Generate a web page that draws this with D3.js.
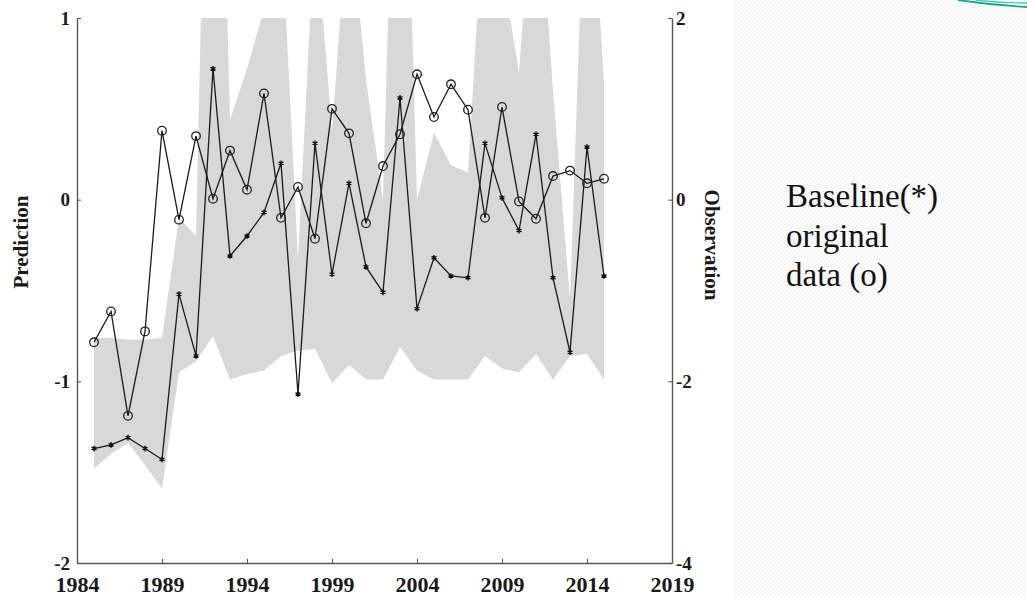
<!DOCTYPE html>
<html>
<head>
<meta charset="utf-8">
<script src="https://cdn.jsdelivr.net/npm/d3@7"></script>
<style>
  body { margin: 0; background: #fff; }
  svg { display: block; }
</style>
</head>
<body>
<svg id="chart" width="1027" height="599"></svg>
<script>
// years of the record
var years = d3.range(1985, 2016);

// original data (o), read against the right axis (Observation)
var observed = [-1.57, -1.23, -2.38, -1.45, 0.76, -0.22, 0.70, 0.01, 0.54, 0.11,
                1.17, -0.20, 0.14, -0.43, 1.00, 0.73, -0.26, 0.37, 0.72, 1.38,
                0.91, 1.27, 0.99, -0.20, 1.02, -0.02, -0.21, 0.26, 0.32, 0.18, 0.23];

// baseline (*), read against the left axis (Prediction)
var baseline = [-1.37, -1.35, -1.31, -1.37, -1.43, -0.52, -0.86, 0.72, -0.31, -0.20,
                -0.07, 0.20, -1.07, 0.31, -0.41, 0.09, -0.37, -0.51, 0.56, -0.60,
                -0.32, -0.42, -0.43, 0.31, 0.01, -0.17, 0.36, -0.43, -0.84, 0.29, -0.42];

// shaded range of the prediction (left axis), clipped at the frame
var bandLow = [-1.48, -1.40, -1.34, -1.46, -1.59, -0.95, -0.89, -0.75, -0.99, -0.96,
               -0.94, -0.86, -0.83, -0.82, -1.01, -0.91, -0.99, -0.99, -0.81, -0.94,
               -0.99, -0.99, -0.99, -0.86, -0.93, -0.95, -0.85, -0.99, -0.86, -0.85, -0.99];
var bandHigh = [-0.76, -0.76, -0.77, -0.77, -0.76, -0.10, -0.20, 4.0, 0.44, 0.72,
                1.05, 1.56, -0.33, 1.54, 0.38, 1.65, 0.66, 0.0, 3.37, 0.0,
                0.37, 0.19, 0.15, 1.74, 1.27, 0.70, 1.97, 0.60, -0.55, 2.16, 0.64];

var xTicks = [1984, 1989, 1994, 1999, 2004, 2009, 2014, 2019];
var leftTicks = [-2, -1, 0, 1];
var rightTicks = [-4, -2, 0, 2];
var noteLines = ["Baseline(*)", "original", "data (o)"];

var svg = d3.select("#chart");

// faint dotted panel on the right
var defs = svg.append("defs");
var pat = defs.append("pattern").attr("id", "dots")
    .attr("width", 4).attr("height", 4).attr("patternUnits", "userSpaceOnUse");
pat.append("rect").attr("width", 4).attr("height", 4).attr("fill", "#fcfcfc");
pat.append("rect").attr("width", 2).attr("height", 2).attr("fill", "#f7f7f7");
pat.append("rect").attr("x", 2).attr("y", 2).attr("width", 2).attr("height", 2).attr("fill", "#f7f7f7");
svg.append("rect").attr("x", 733).attr("y", 0).attr("width", 294).attr("height", 599)
    .attr("fill", "url(#dots)");

// teal swoosh in the corner
svg.append("path").attr("d", "M958,0 Q992,5 1027,7").attr("fill", "none")
    .attr("stroke", "#17a0a6").attr("stroke-width", 1.8);
svg.append("path").attr("d", "M975,0 Q1002,3 1027,3").attr("fill", "none")
    .attr("stroke", "#3fd0a8").attr("stroke-width", 1.4);

var x = d3.scaleLinear().domain([1984, 2019]).range([77, 672]);
var yL = d3.scaleLinear().domain([-2, 1]).range([563, 18]);
var yR = d3.scaleLinear().domain([-4, 2]).range([563, 18]);

defs.append("clipPath").attr("id", "frame")
  .append("rect").attr("x", 77).attr("y", 18).attr("width", 595).attr("height", 545);

var plot = svg.append("g").attr("clip-path", "url(#frame)");

var band = d3.area()
    .x(function(d, i) { return x(years[i]); })
    .y0(function(d, i) { return yL(bandLow[i]); })
    .y1(function(d, i) { return yL(bandHigh[i]); });

plot.append("path").datum(years).attr("d", band).attr("fill", "#d8d8d8");

// baseline line + asterisks
var lineB = d3.line().x(function(d, i) { return x(years[i]); }).y(function(d) { return yL(d); });
plot.append("path").datum(baseline).attr("d", lineB)
    .attr("fill", "none").attr("stroke", "#1a1a1a").attr("stroke-width", 1.3);
var star = d3.symbol().type(d3.symbolAsterisk).size(22);
plot.selectAll(".star").data(baseline).enter().append("path")
    .attr("class", "star")
    .attr("transform", function(d, i) { return "translate(" + x(years[i]) + "," + yL(d) + ")"; })
    .attr("d", star).attr("fill", "none").attr("stroke", "#111").attr("stroke-width", 1.4);

// observed line + circles
var lineO = d3.line().x(function(d, i) { return x(years[i]); }).y(function(d) { return yR(d); });
plot.append("path").datum(observed).attr("d", lineO)
    .attr("fill", "none").attr("stroke", "#1a1a1a").attr("stroke-width", 1.3);
plot.selectAll(".obs").data(observed).enter().append("circle")
    .attr("class", "obs")
    .attr("cx", function(d, i) { return x(years[i]); })
    .attr("cy", function(d) { return yR(d); })
    .attr("r", 4.3).attr("fill", "none").attr("stroke", "#222").attr("stroke-width", 1.3);

// axes
var fontAx = "'Liberation Serif', 'Times New Roman', serif";

var gx = svg.append("g").attr("transform", "translate(0,563)")
    .call(d3.axisBottom(x).tickValues(xTicks).tickFormat(d3.format("d"))
        .tickSizeInner(-4).tickSizeOuter(0).tickPadding(13));
var gl = svg.append("g").attr("transform", "translate(77,0)")
    .call(d3.axisLeft(yL).tickValues(leftTicks).tickFormat(function(d) { return String(d); })
        .tickSizeInner(-4).tickSizeOuter(0).tickPadding(7));
var gr = svg.append("g").attr("transform", "translate(672,0)")
    .call(d3.axisRight(yR).tickValues(rightTicks).tickFormat(function(d) { return String(d); })
        .tickSizeInner(-4).tickSizeOuter(0).tickPadding(4));

[gx, gl, gr].forEach(function(g) {
    g.select(".domain").attr("stroke", "#555").attr("stroke-width", 1.4);
    g.selectAll(".tick line").attr("stroke", "#555");
    g.selectAll(".tick text").attr("font-family", fontAx).attr("font-weight", "bold")
        .attr("fill", "#1a1a1a");
});
gx.selectAll(".tick text").attr("font-size", 22);
gl.selectAll(".tick text").attr("font-size", 19);
gr.selectAll(".tick text").attr("font-size", 19);

svg.append("text").text("Prediction")
    .attr("transform", "translate(28,242) rotate(-90)")
    .attr("text-anchor", "middle")
    .attr("font-family", fontAx).attr("font-weight", "bold").attr("font-size", 21)
    .attr("fill", "#1a1a1a");
svg.append("text").text("Observation")
    .attr("transform", "translate(705,245) rotate(90)")
    .attr("text-anchor", "middle")
    .attr("font-family", fontAx).attr("font-weight", "bold").attr("font-size", 21)
    .attr("fill", "#1a1a1a");

// side note
svg.append("g").selectAll("text").data(noteLines).enter().append("text")
    .attr("x", 786)
    .attr("y", function(d, i) { return 207 + i * 39.5; })
    .text(function(d) { return d; })
    .attr("font-family", "'Liberation Serif', 'Times New Roman', serif")
    .attr("font-size", 33).attr("fill", "#111");
</script>
</body>
</html>
